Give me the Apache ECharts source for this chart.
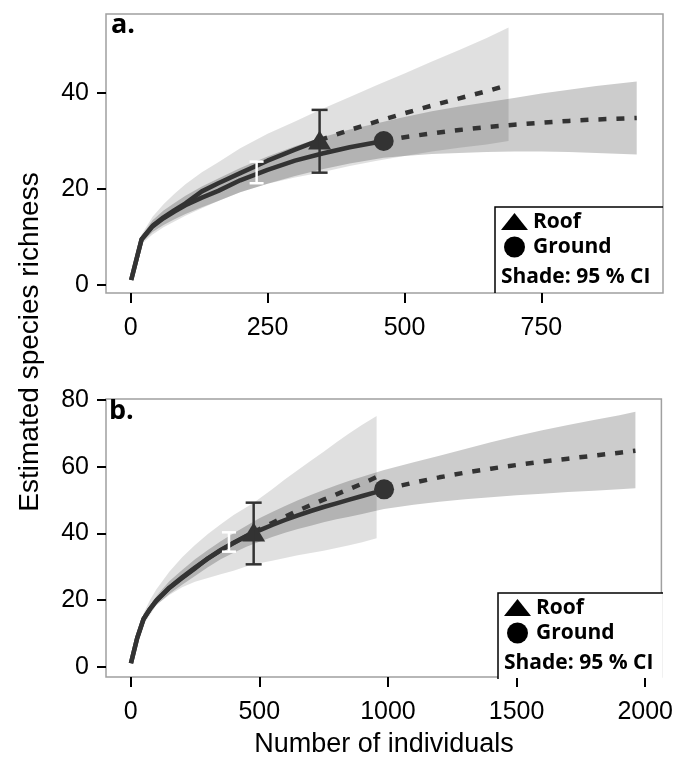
<!DOCTYPE html>
<html><head><meta charset="utf-8">
<script src="https://cdn.jsdelivr.net/npm/echarts@6/dist/echarts.min.js"></script>
<style>html,body{margin:0;padding:0;background:#fff}#c{width:676px;height:760px}</style>
</head><body><div id="c"></div>
<script>
// ---------- Panel a ----------
const aRoofObsN = [1,20,40,60,80,100,130,160,200,250,300,345];
const aRoofObsS = [1,9.5,12.3,14.1,15.6,17.0,19.5,21.2,23.3,25.9,28.2,30.2];
const aRoofExtN = [345,400,450,500,550,600,650,690];
const aRoofExtS = [30.2,32.3,34.1,35.8,37.4,38.9,40.4,41.7];
const aGroundObsN = [1,20,40,60,80,100,130,160,200,250,300,350,400,462];
const aGroundObsS = [1,9.5,12.2,13.9,15.3,16.6,18.2,19.6,21.8,24.0,25.9,27.4,28.7,30.0];
const aGroundExtN = [462,500,550,600,650,700,750,800,850,924];
const aGroundExtS = [30,30.8,31.6,32.3,32.9,33.4,33.8,34.2,34.5,34.8];
const aRoofCiN  = [1,20,40,60,80,100,130,160,200,250,300,345,400,450,500,550,600,650,690];
const aRoofCiHi = [1,10.5,14.2,16.8,19,21,23.5,25.6,28.5,31.5,34.1,36.5,39.2,41.7,44.1,46.6,49,51.5,53.7];
const aRoofCiLo = [1,8.5,10.5,12,13.2,14.4,16,17.5,19.3,21.1,22.4,23.4,24.8,25.9,26.9,27.8,28.6,29.3,30];
const aGroundCiN  = [1,20,40,60,80,100,130,160,200,250,300,350,400,462,500,550,600,650,700,750,800,850,924];
const aGroundCiHi = [1,10.2,13.5,15.5,17.1,18.6,20.5,22.2,24.4,26.8,28.9,30.8,32.4,34,35,36.2,37.2,38.1,39,39.9,40.7,41.5,42.4];
const aGroundCiLo = [1,8.8,11,12.5,13.7,14.8,16.2,17.5,19.3,21.1,22.7,24.1,25.3,26.5,26.9,27.3,27.5,27.7,27.8,27.8,27.7,27.5,27.2];
const aBarN = [345], aBarLo = [23.4], aBarHi = [36.5];
const aWhiteBarN = [230], aWhiteBarLo = [21.2], aWhiteBarHi = [25.7];
const aXTicks = [0,250,500,750];
const aYTicks = [0,20,40];

// ---------- Panel b ----------
const bRoofObsN = [1,25,50,75,100,150,200,250,300,350,400,440,478];
const bRoofObsS = [1,8.5,14.3,17.3,19.8,23.6,26.6,29.5,32.5,35,37.2,38.8,40.4];
const bRoofExtN = [478,550,600,650,700,750,800,850,900,956];
const bRoofExtS = [40.4,43.1,45,46.8,48.5,50.1,51.7,53.3,54.9,56.9];
const bGroundObsN = [1,25,50,75,100,150,200,250,300,350,400,450,500,550,600,650,700,750,800,850,900,950,985];
const bGroundObsS = [1,8.5,14.3,17.3,19.8,23.7,26.8,29.7,32.4,34.9,37.1,39.1,40.9,42.5,44,45.4,46.7,47.9,49.0,50.1,51.2,52.3,53.2];
const bGroundExtN = [985,1100,1200,1300,1400,1500,1600,1700,1800,1900,1962];
const bGroundExtS = [53.2,55.2,56.8,58.2,59.4,60.5,61.5,62.4,63.3,64.2,64.8];
const bRoofCiN  = [1,25,50,75,100,150,200,250,300,350,400,440,478,550,600,650,700,750,800,850,900,956];
const bRoofCiHi = [1,9.5,16,20,23.2,28.5,32.8,36.5,39.8,42.7,45.5,47.4,49.2,53.2,56.2,59,61.8,64.5,67.3,70,72.6,75.2];
const bRoofCiLo = [1,7.5,12.7,15.5,18.5,21.5,23.8,25.5,26.6,27.7,28.8,29.8,30.7,31.8,32.6,33.4,34.1,34.8,35.6,36.4,37.3,38.5];
const bGroundCiN  = [1,25,50,75,100,150,200,250,300,350,400,450,500,550,600,650,700,750,800,850,900,950,985,1100,1200,1300,1400,1500,1600,1700,1800,1900,1962];
const bGroundCiHi = [1,9,15.2,18.5,21.2,25.6,29,32.2,35,37.6,40,42.3,44.5,46.4,48.2,49.9,51.5,53,54.4,55.8,57,58.2,59,61.3,63.3,65.3,67.3,69.2,70.9,72.5,74,75.4,76.5];
const bGroundCiLo = [1,8,13.4,16.1,18.5,21.8,24.6,27.2,29.8,32.2,34.2,36,37.5,38.9,40.2,41.3,42.3,43.3,44.2,45,45.8,46.7,47.3,48.6,49.5,50.2,50.8,51.4,51.9,52.4,52.8,53.2,53.5];
const bBarN = [478], bBarLo = [30.7], bBarHi = [49.2];
const bWhiteBarN = [382], bWhiteBarLo = [34.5], bWhiteBarHi = [40.3];
const bXTicks = [0,500,1000,1500,2000];
const bYTicks = [0,20,40,60,80];

const legendItems = ['Roof','Ground','Shade: 95 % CI'];
const panelLabels = ['a.','b.'];
const xTitle = 'Number of individuals';
const yTitle = 'Estimated species richness';

// ---------- helpers ----------
const LINE = '#333333';
const FONT = '"Liberation Sans", Arial, sans-serif';
const BOLD = '"Open Sans", "Noto Sans", sans-serif';
const zip = (a, b) => a.map((v, i) => [v, b[i]]);

function band(idx, N, lo, hi, fill) {
  return {
    type: 'custom', xAxisIndex: idx, yAxisIndex: idx, z: 1, silent: true,
    data: [[N[0], lo[0]]],
    renderItem: (p, api) => {
      if (p.dataIndex !== 0) return;
      const pts = [];
      for (let i = 0; i < N.length; i++) pts.push(api.coord([N[i], hi[i]]));
      for (let i = N.length - 1; i >= 0; i--) pts.push(api.coord([N[i], lo[i]]));
      return { type: 'polygon', shape: { points: pts }, style: { fill: fill } };
    }
  };
}
function line(idx, N, S, dashed) {
  return {
    type: 'line', xAxisIndex: idx, yAxisIndex: idx, z: 3, silent: true,
    data: zip(N, S), showSymbol: false, symbol: 'none', smooth: false,
    lineStyle: { color: LINE, width: 4.5, type: dashed ? [8, 10] : 'solid', cap: 'butt', join: 'round' }
  };
}
function marker(idx, n, s, sym, size) {
  return {
    type: 'scatter', xAxisIndex: idx, yAxisIndex: idx, z: 4, silent: true,
    data: [[n, s]], symbol: sym, symbolSize: size,
    itemStyle: { color: LINE, opacity: 1 }
  };
}
function errBar(idx, N, lo, hi, color, w, cap) {
  return {
    type: 'custom', xAxisIndex: idx, yAxisIndex: idx, z: 5, silent: true,
    data: N.map((n, i) => [n, lo[i], hi[i]]),
    encode: { x: 0, y: [1, 2] },
    renderItem: (p, api) => {
      const a = api.coord([api.value(0), api.value(1)]);
      const b = api.coord([api.value(0), api.value(2)]);
      const st = { stroke: color, lineWidth: w };
      return { type: 'group', children: [
        { type: 'line', shape: { x1: a[0], y1: a[1], x2: b[0], y2: b[1] }, style: st },
        { type: 'line', shape: { x1: a[0] - cap, y1: a[1], x2: a[0] + cap, y2: a[1] }, style: st },
        { type: 'line', shape: { x1: b[0] - cap, y1: b[1], x2: b[0] + cap, y2: b[1] }, style: st }
      ]};
    }
  };
}
const plain = v => String(v);
function xAxis(idx, min, max, ticks) {
  return {
    gridIndex: idx, type: 'value', min: min, max: max, position: 'bottom',
    axisLine: { show: false, onZero: false }, splitLine: { show: false },
    axisTick: { show: true, length: 10, lineStyle: { color: '#000', width: 2 }, customValues: ticks },
    axisLabel: { customValues: ticks, formatter: plain, fontSize: 25, color: '#000', margin: 23, fontFamily: FONT }
  };
}
function yAxis(idx, min, max, ticks) {
  return {
    gridIndex: idx, type: 'value', min: min, max: max, position: 'left',
    axisLine: { show: false, onZero: false }, splitLine: { show: false },
    axisTick: { show: true, length: 9, lineStyle: { color: '#000', width: 2 }, customValues: ticks },
    axisLabel: { customValues: ticks, formatter: plain, fontSize: 25, color: '#000', margin: 17, fontFamily: FONT }
  };
}
function legend(dx, dy) {
  const x0 = 495 + dx, y0 = 207 + dy;
  const ts = { fill: '#000', font: 'bold 21px ' + BOLD, textVerticalAlign: 'middle' };
  return [
    { type: 'rect', shape: { x: x0, y: y0, width: 663 - x0 - 1, height: 293 + dy - y0 - 1 }, style: { fill: '#fff' }, z: 10 },
    { type: 'polyline', shape: { points: [[x0, 293 + dy], [x0, y0], [663, y0]] }, style: { stroke: '#000', lineWidth: 1.5, fill: null }, z: 11 },
    { type: 'polygon', shape: { points: [[x0 + 6, y0 + 23], [x0 + 33, y0 + 23], [x0 + 19.5, y0 + 6]] }, style: { fill: '#000' }, z: 11 },
    { type: 'circle', shape: { cx: x0 + 19.5, cy: y0 + 40, r: 10.5 }, style: { fill: '#000' }, z: 11 },
    { type: 'text', x: x0 + 38, y: y0 + 15, style: Object.assign({ text: legendItems[0] }, ts), z: 11 },
    { type: 'text', x: x0 + 38, y: y0 + 40, style: Object.assign({ text: legendItems[1] }, ts), z: 11 },
    { type: 'text', x: x0 + 6, y: y0 + 70, style: Object.assign({ text: legendItems[2] }, ts), z: 11 }
  ];
}

const ROOF_FILL = 'rgba(0,0,0,0.12)';
const GROUND_FILL = 'rgba(0,0,0,0.20)';

const chart = echarts.init(document.getElementById('c'), null, { renderer: 'canvas' });
chart.setOption({
  animation: false,
  backgroundColor: '#fff',
  grid: [
    { left: 106, top: 14, width: 557, height: 279, show: true, borderColor: '#a0a0a0', borderWidth: 1.5, backgroundColor: 'transparent' },
    { left: 106, top: 399, width: 557, height: 278, show: true, borderColor: '#a0a0a0', borderWidth: 1.5, backgroundColor: 'transparent' }
  ],
  xAxis: [xAxis(0, -45, 972, aXTicks), xAxis(1, -96, 2063, bXTicks)],
  yAxis: [yAxis(0, -1.7, 56.5, aYTicks), yAxis(1, -3.1, 80.3, bYTicks)],
  series: [
    band(0, aRoofCiN, aRoofCiLo, aRoofCiHi, ROOF_FILL),
    band(0, aGroundCiN, aGroundCiLo, aGroundCiHi, GROUND_FILL),
    line(0, aRoofObsN, aRoofObsS, false),
    line(0, aRoofExtN, aRoofExtS, true),
    line(0, aGroundObsN, aGroundObsS, false),
    line(0, aGroundExtN, aGroundExtS, true),
    marker(0, aRoofObsN[aRoofObsN.length - 1], aRoofObsS[aRoofObsS.length - 1], 'triangle', [23, 19]),
    marker(0, aGroundObsN[aGroundObsN.length - 1], aGroundObsS[aGroundObsS.length - 1], 'circle', 20),
    errBar(0, aBarN, aBarLo, aBarHi, LINE, 2.5, 8),
    errBar(0, aWhiteBarN, aWhiteBarLo, aWhiteBarHi, '#ffffff', 2.5, 7),

    band(1, bRoofCiN, bRoofCiLo, bRoofCiHi, ROOF_FILL),
    band(1, bGroundCiN, bGroundCiLo, bGroundCiHi, GROUND_FILL),
    line(1, bRoofObsN, bRoofObsS, false),
    line(1, bRoofExtN, bRoofExtS, true),
    line(1, bGroundObsN, bGroundObsS, false),
    line(1, bGroundExtN, bGroundExtS, true),
    marker(1, bRoofObsN[bRoofObsN.length - 1], bRoofObsS[bRoofObsS.length - 1], 'triangle', [23, 19]),
    marker(1, bGroundObsN[bGroundObsN.length - 1], bGroundObsS[bGroundObsS.length - 1], 'circle', 20),
    errBar(1, bBarN, bBarLo, bBarHi, LINE, 2.5, 8),
    errBar(1, bWhiteBarN, bWhiteBarLo, bWhiteBarHi, '#ffffff', 2.5, 7)
  ],
  graphic: [
    { type: 'text', x: 111, y: 25, style: { text: panelLabels[0], fill: '#000', font: 'bold 27px ' + BOLD, textVerticalAlign: 'middle' }, z: 12 },
    { type: 'text', x: 109, y: 411, style: { text: panelLabels[1], fill: '#000', font: 'bold 27px ' + BOLD, textVerticalAlign: 'middle' }, z: 12 },
    { type: 'text', x: 384, y: 745, style: { text: xTitle, fill: '#000', font: '27px ' + FONT, textAlign: 'center', textVerticalAlign: 'middle' } },
    { type: 'text', x: 30, y: 342, rotation: Math.PI / 2, style: { text: yTitle, fill: '#000', font: '28px ' + FONT, textAlign: 'center', textVerticalAlign: 'middle' } }
  ].concat(legend(0, 0), legend(3, 386))
});
</script></body></html>
